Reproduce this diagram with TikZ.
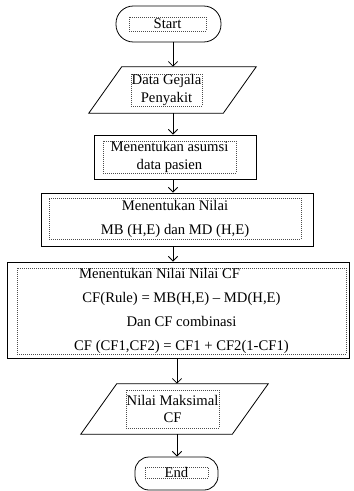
\documentclass[tikz,border=0pt]{standalone}
\usepackage{fontspec}
\setmainfont{Liberation Serif}
\usepackage{pgf,tikz}
\usetikzlibrary{arrows.meta}

\begin{document}
\begin{tikzpicture}[x=0.75pt,y=-0.75pt,
	term/.style={draw,line width=0.6pt,rectangle,inner sep=0pt},
	io/.style={rectangle,inner sep=0pt},
	side/.style={line width=0.6pt},
	proc/.style={draw,line width=0.6pt,rectangle,inner sep=0pt},
	txt/.style={draw,densely dotted,line width=0.5pt,gray!60!black,text=black,inner sep=0pt,align=center,font=\fontsize{11}{13}\selectfont},
	wide/.style={txt,font=\fontsize{11}{18}\selectfont},
	arr/.style={-{Straight Barb[length=3.5pt,width=7pt]},line width=0.6pt}]
	\useasboundingbox (0,0) rectangle (353,491);
	\coordinate (col) at (173,0);
	\coordinate (col2) at (177,0);

	\node[term,rounded corners=13pt,minimum width=78.75pt,minimum height=27pt] (start) at (168.5,24) {};
	\node[txt,minimum width=57.75pt,minimum height=10.5pt] (startTxt) at (167.5,24) {Start};

	\node[io,minimum width=125.25pt,minimum height=34.5pt] (data) at (172.5,90) {};
	\draw[side] ([xshift=24.75pt]data.north west) -- (data.north east) -- ([xshift=-24.75pt]data.south east) -- (data.south west) -- cycle;
	\node[txt,minimum width=53.25pt,minimum height=24pt] (dataTxt) at (166.5,90) {Data Gejala\\Penyakit};

	\node[proc,minimum width=121.5pt,minimum height=33pt] (asumsi) at (175,157) {};
	\node[txt,minimum width=99.75pt,minimum height=24pt] (asumsiTxt) at (169.5,157) {Menentukan asumsi\\data pasien};

	\node[proc,minimum width=204pt,minimum height=39.75pt] (mbmd) at (177,219.5) {};
	\node[wide,minimum width=189pt,minimum height=30.75pt] (mbmdTxt) at (175,218.5) {Menentukan Nilai\\MB (H,E) dan MD (H,E)};

	\node[proc,minimum width=256.5pt,minimum height=72pt] (cf) at (178,310) {};
	\node[wide,minimum width=246.75pt,minimum height=64.5pt] (cfTxt) at (181.5,311) {Menentukan Nilai Nilai CF\hspace*{33pt}\\CF(Rule) = MB(H,E) – MD(H,E)\\Dan CF combinasi\\CF (CF1,CF2) = CF1 + CF2(1-CF1)};

	\node[io,minimum width=140.25pt,minimum height=37.5pt] (maks) at (174.5,409) {};
	\draw[side] ([xshift=27pt]maks.north west) -- (maks.north east) -- ([xshift=-27pt]maks.south east) -- (maks.south west) -- cycle;
	\node[txt,minimum width=69.75pt,minimum height=28.5pt] (maksTxt) at (172.5,409) {Nilai Maksimal\\CF};

	\node[term,rounded corners=10.5pt,minimum width=62.25pt,minimum height=24.75pt] (end) at (176.5,473.5) {};
	\node[txt,minimum width=47.25pt,minimum height=8.25pt] (endTxt) at (176.5,472.5) {End};

	\draw[arr] (start.south -| col) -- (data.north -| col);
	\draw[arr] (data.south -| col) -- (asumsi.north -| col);
	\draw[arr] (asumsi.south -| col) -- (mbmd.north -| col);
	\draw[arr] (mbmd.south -| col) -- (cf.north -| col);
	\draw[arr] (cf.south -| col2) -- (maks.north -| col2);
	\draw[arr] (maks.south -| col2) -- (end.north -| col2);
\end{tikzpicture}
\end{document}
